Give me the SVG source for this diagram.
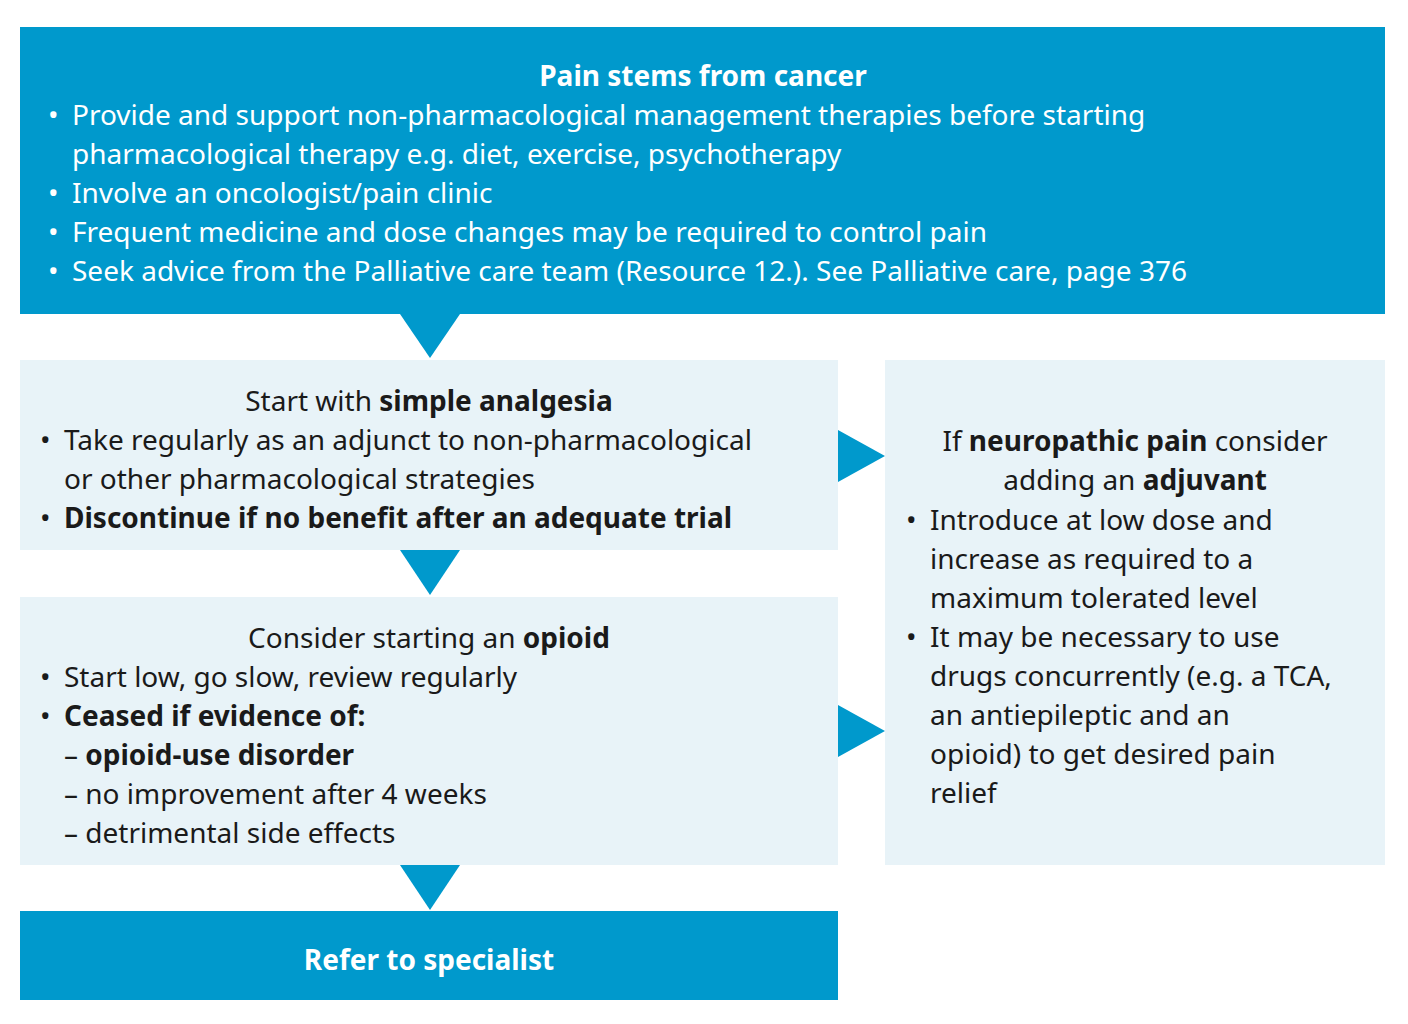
<svg xmlns="http://www.w3.org/2000/svg" width="1408" height="1024" viewBox="0 0 1408 1024">
<style>
text{font-family:"Noto Sans","Open Sans",sans-serif;font-size:28px;fill:#1a1a1a}
.w{fill:#fff}
.b{font-weight:bold}
.dark{fill:#0099cc}
.light{fill:#e8f3f8}
</style>
<rect width="1408" height="1024" fill="#fff"/>
<g id="connectors" fill="#0099cc">
<polygon points="400,314 460,314 430,358"/>
<polygon points="400,550 460,550 430,595"/>
<polygon points="400,865 460,865 430,910"/>
<polygon points="838,430 838,482 885,456"/>
<polygon points="838,705 838,757 885,731"/>
</g>
<g id="top">
<rect class="dark" x="20" y="27" width="1365" height="287"/>
<text class="w b" x="703" y="86" text-anchor="middle">Pain stems from cancer</text>
<text class="w" x="48" y="125">•</text><text class="w" x="72" y="125">Provide and support non-pharmacological management therapies before starting</text>
<text class="w" x="72" y="164">pharmacological therapy e.g. diet, exercise, psychotherapy</text>
<text class="w" x="48" y="203">•</text><text class="w" x="72" y="203">Involve an oncologist/pain clinic</text>
<text class="w" x="48" y="242">•</text><text class="w" x="72" y="242">Frequent medicine and dose changes may be required to control pain</text>
<text class="w" x="48" y="281">•</text><text class="w" x="72" y="281">Seek advice from the Palliative care team (Resource 12.). See Palliative care, page 376</text>
</g>
<g id="simple">
<rect class="light" x="20" y="360" width="818" height="190"/>
<text x="429" y="411" text-anchor="middle">Start with <tspan class="b">simple analgesia</tspan></text>
<text x="40" y="450">•</text><text x="64" y="450">Take regularly as an adjunct to non-pharmacological</text>
<text x="64" y="489">or other pharmacological strategies</text>
<text x="40" y="528">•</text><text class="b" x="64" y="528">Discontinue if no benefit after an adequate trial</text>
</g>
<g id="opioid">
<rect class="light" x="20" y="597" width="818" height="268"/>
<text x="429" y="648" text-anchor="middle">Consider starting an <tspan class="b">opioid</tspan></text>
<text x="40" y="687">•</text><text x="64" y="687">Start low, go slow, review regularly</text>
<text x="40" y="726">•</text><text class="b" x="64" y="726">Ceased if evidence of:</text>
<text x="64" y="765">– <tspan class="b">opioid-use disorder</tspan></text>
<text x="64" y="804">– no improvement after 4 weeks</text>
<text x="64" y="843">– detrimental side effects</text>
</g>
<g id="refer">
<rect class="dark" x="20" y="911" width="818" height="89"/>
<text class="w b" x="429" y="970" text-anchor="middle">Refer to specialist</text>
</g>
<g id="neuro">
<rect class="light" x="885" y="360" width="500" height="505"/>
<text x="1135" y="451" text-anchor="middle">If <tspan class="b">neuropathic pain</tspan> consider</text>
<text x="1135" y="490" text-anchor="middle">adding an <tspan class="b">adjuvant</tspan></text>
<text x="906" y="530">•</text><text x="930" y="530">Introduce at low dose and</text>
<text x="930" y="569">increase as required to a</text>
<text x="930" y="608">maximum tolerated level</text>
<text x="906" y="647">•</text><text x="930" y="647">It may be necessary to use</text>
<text x="930" y="686">drugs concurrently (e.g. a TCA,</text>
<text x="930" y="725">an antiepileptic and an</text>
<text x="930" y="764">opioid) to get desired pain</text>
<text x="930" y="803">relief</text>
</g>
</svg>
